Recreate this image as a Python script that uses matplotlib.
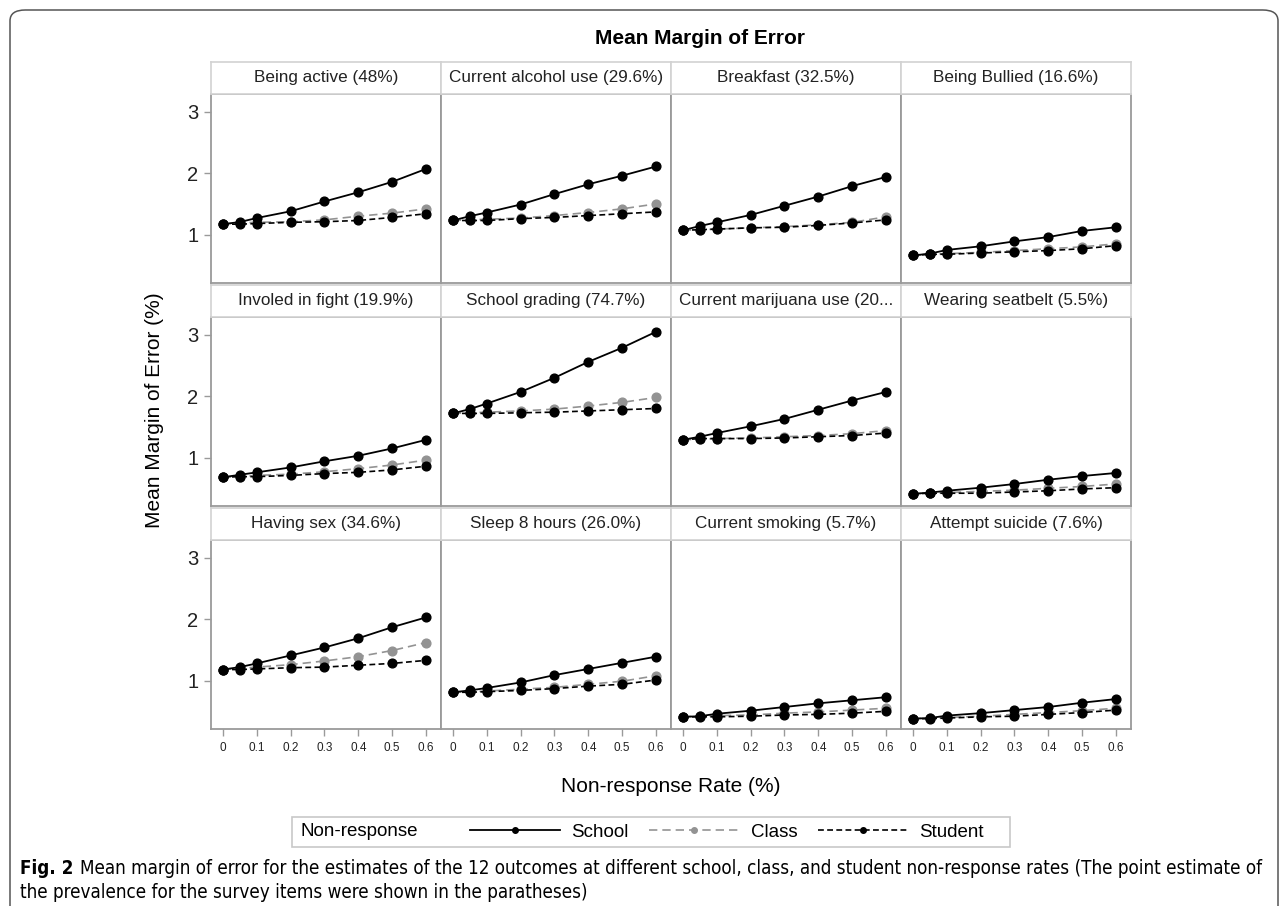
import numpy as np
import matplotlib
matplotlib.use('Agg')
import matplotlib.pyplot as plt
from matplotlib.lines import Line2D
from matplotlib.patches import Rectangle, FancyBboxPatch

plt.rcParams['font.family'] = ['Liberation Sans', 'DejaVu Sans']

# ---------------------------------------------------------------- data
rates = [0, 0.05, 0.1, 0.2, 0.3, 0.4, 0.5, 0.6]

titles = ['Being active (48%)', 'Current alcohol use (29.6%)', 'Breakfast (32.5%)', 'Being Bullied (16.6%)',
          'Involed in fight (19.9%)', 'School grading (74.7%)', 'Current marijuana use (20...', 'Wearing seatbelt (5.5%)',
          'Having sex (34.6%)', 'Sleep 8 hours (26.0%)', 'Current smoking (5.7%)', 'Attempt suicide (7.6%)']

school = [
    [1.17, 1.205, 1.27, 1.38, 1.54, 1.69, 1.86, 2.07],
    [1.23, 1.30, 1.36, 1.49, 1.66, 1.82, 1.96, 2.11],
    [1.07, 1.14, 1.20, 1.32, 1.47, 1.62, 1.79, 1.94],
    [0.66, 0.69, 0.75, 0.81, 0.89, 0.96, 1.06, 1.12],
    [0.68, 0.72, 0.76, 0.84, 0.94, 1.03, 1.15, 1.29],
    [1.72, 1.79, 1.88, 2.07, 2.30, 2.56, 2.79, 3.05],
    [1.29, 1.34, 1.40, 1.51, 1.63, 1.78, 1.93, 2.07],
    [0.41, 0.43, 0.46, 0.51, 0.57, 0.64, 0.70, 0.75],
    [1.18, 1.22, 1.28, 1.41, 1.54, 1.69, 1.87, 2.03],
    [0.81, 0.84, 0.88, 0.97, 1.09, 1.19, 1.29, 1.39],
    [0.41, 0.42, 0.46, 0.51, 0.57, 0.63, 0.68, 0.73],
    [0.38, 0.39, 0.43, 0.47, 0.52, 0.57, 0.64, 0.70],
]
klass = [
    [1.17, 1.19, 1.20, 1.21, 1.24, 1.30, 1.35, 1.42],
    [1.23, 1.24, 1.25, 1.27, 1.31, 1.36, 1.42, 1.50],
    [1.07, 1.08, 1.09, 1.11, 1.13, 1.16, 1.20, 1.29],
    [0.66, 0.68, 0.69, 0.71, 0.74, 0.77, 0.80, 0.85],
    [0.68, 0.69, 0.71, 0.73, 0.77, 0.82, 0.88, 0.96],
    [1.72, 1.73, 1.74, 1.76, 1.79, 1.84, 1.90, 1.98],
    [1.29, 1.30, 1.31, 1.32, 1.34, 1.36, 1.39, 1.44],
    [0.41, 0.42, 0.43, 0.45, 0.47, 0.50, 0.53, 0.57],
    [1.18, 1.20, 1.22, 1.26, 1.32, 1.39, 1.49, 1.62],
    [0.81, 0.82, 0.83, 0.86, 0.89, 0.94, 0.99, 1.08],
    [0.41, 0.42, 0.43, 0.44, 0.47, 0.49, 0.52, 0.55],
    [0.38, 0.39, 0.40, 0.42, 0.45, 0.48, 0.51, 0.55],
]
student = [
    [1.17, 1.17, 1.18, 1.20, 1.21, 1.23, 1.28, 1.34],
    [1.23, 1.23, 1.23, 1.26, 1.28, 1.31, 1.34, 1.37],
    [1.07, 1.08, 1.09, 1.11, 1.12, 1.15, 1.19, 1.24],
    [0.66, 0.68, 0.68, 0.70, 0.72, 0.74, 0.77, 0.82],
    [0.68, 0.69, 0.69, 0.71, 0.74, 0.76, 0.80, 0.86],
    [1.72, 1.72, 1.72, 1.73, 1.74, 1.76, 1.78, 1.80],
    [1.29, 1.31, 1.31, 1.31, 1.32, 1.34, 1.36, 1.40],
    [0.41, 0.42, 0.42, 0.42, 0.44, 0.46, 0.49, 0.51],
    [1.18, 1.18, 1.19, 1.21, 1.22, 1.25, 1.28, 1.33],
    [0.81, 0.81, 0.82, 0.84, 0.87, 0.91, 0.94, 1.01],
    [0.41, 0.41, 0.41, 0.42, 0.44, 0.45, 0.47, 0.50],
    [0.38, 0.38, 0.39, 0.41, 0.42, 0.45, 0.48, 0.52],
]

xticks = [0, 0.1, 0.2, 0.3, 0.4, 0.5, 0.6]
xticklabels = ['0', '0.1', '0.2', '0.3', '0.4', '0.5', '0.6']
yticks = [1, 2, 3]

# ---------------------------------------------------------------- layout (pixels)
W, H = 1281, 906
fig = plt.figure(figsize=(W / 100, H / 100), dpi=100)


def px(x, y, w, h):
    return [x / W, 1 - (y + h) / H, w / W, h / H]


LEFT, PW, PH, SH = 211, 230, 188.5, 31.5
TOPS = [94, 317, 540]
GRAY = '#9a9a9a'
CLASS_C = '#939393'

estilos = {
    'school': dict(color='black', ls='-', lw=1.3, marker='o', ms=6.3),
    'class': dict(color=CLASS_C, ls=(0, (5, 3)), lw=1.2, marker='o', ms=6.3),
    'student': dict(color='black', ls=(0, (3.5, 2)), lw=1.2, marker='o', ms=6.3),
}

for i in range(12):
    r, c = divmod(i, 4)
    x0 = LEFT + c * PW
    top = TOPS[r]

    ax = fig.add_axes(px(x0, top, PW, PH))
    ax.plot(rates, klass[i], zorder=2, **estilos['class'])
    ax.plot(rates, student[i], zorder=3, **estilos['student'])
    ax.plot(rates, school[i], zorder=4, **estilos['school'])
    ax.set_xlim(-0.035, 0.644)
    ax.set_ylim(0.22, 3.29)
    for s in ax.spines.values():
        s.set_color(GRAY)
        s.set_linewidth(1.3)
    ax.set_xticks(xticks)
    ax.set_yticks(yticks)
    ax.tick_params(colors=GRAY, length=5, width=1)
    if c == 0:
        ax.set_yticklabels(['1', '2', '3'], fontsize=14.5, color='#222222')
        ax.tick_params(axis='y', pad=4)
    else:
        ax.tick_params(axis='y', left=False, labelleft=False)
    if r == 2:
        ax.set_xticklabels(xticklabels, fontsize=8.5, color='#222222')
        ax.tick_params(axis='x', pad=5)
    else:
        ax.tick_params(axis='x', bottom=False, labelbottom=False)

    # header strip
    st = fig.add_axes(px(x0, top - SH - 0.5, PW, SH))
    st.set_xticks([]), st.set_yticks([])
    for s in st.spines.values():
        s.set_color('#d2d2d2')
        s.set_linewidth(1.2)
    st.text(0.5, 0.5, titles[i], ha='center', va='center', fontsize=12.3, color='#222222', transform=st.transAxes)

cx = (LEFT + 2 * PW) / W
fig.text(700 / W, 1 - 39 / H, 'Mean Margin of Error', ha='center', va='center', fontsize=15, fontweight='bold')
fig.text(155 / W, 1 - 410 / H, 'Mean Margin of Error (%)', ha='center', va='center', rotation=90, fontsize=15)
fig.text(cx, 1 - 786 / H, 'Non-response Rate (%)', ha='center', va='center', fontsize=15)

# ---------------------------------------------------------------- legend
ly = 832
fig.patches.append(Rectangle((292 / W, 1 - (ly + 15) / H), (1010 - 292) / W, 30 / H,
                             transform=fig.transFigure, fill=False, edgecolor='#c8c8c8', lw=1.2))
fig.text(300 / W, 1 - ly / H, 'Non-response', ha='left', va='center', fontsize=13.5)
handles = [Line2D([], [], **{**estilos[k], 'ms': 4}) for k in ['school', 'class', 'student']]
fig.legend(handles, ['School', 'Class', 'Student'], loc='center left', bbox_to_anchor=(470 / W, 1 - ly / H),
           ncol=3, frameon=False, fontsize=13.5, handlelength=4.8, handletextpad=0.6, columnspacing=1.1,
           borderpad=0, borderaxespad=0)

# ---------------------------------------------------------------- caption + frame
fig.patches.append(FancyBboxPatch((10 / W, -0.05), (1268 / W), (1 - 10 / H) + 0.05,
                                  boxstyle='round,pad=0,rounding_size=0.012', transform=fig.transFigure,
                                  fill=False, edgecolor='#555555', lw=1.1))

cap_kw = dict(family='DejaVu Sans', fontstretch='condensed')
linha1 = 'Mean margin of error for the estimates of the 12 outcomes at different school, class, and student non-response rates (The point estimate of'
linha2 = 'the prevalence for the survey items were shown in the paratheses)'
fig.canvas.draw()
rend = fig.canvas.get_renderer()
fs = 12
t_fig = fig.text(20 / W, 1 - 868 / H, 'Fig. 2', ha='left', va='center', fontsize=fs, fontweight='bold', **cap_kw)
bb = t_fig.get_window_extent(rend)
t1 = fig.text((bb.x1 + 7) / W, 1 - 868 / H, linha1, ha='left', va='center', fontsize=fs, **cap_kw)
bb1 = t1.get_window_extent(rend)
# ajusta o tamanho para a linha terminar em ~1265 px
escala = (1265 - 20) / (bb1.x1 - 20)
fs = fs * escala
t_fig.set_fontsize(fs)
bb = t_fig.get_window_extent(rend)
t1.set_fontsize(fs)
t1.set_x((bb.x1 + 7) / W)
fig.text(20 / W, 1 - 893 / H, linha2, ha='left', va='center', fontsize=fs, **cap_kw)

plt.savefig('out.png', dpi=100)
